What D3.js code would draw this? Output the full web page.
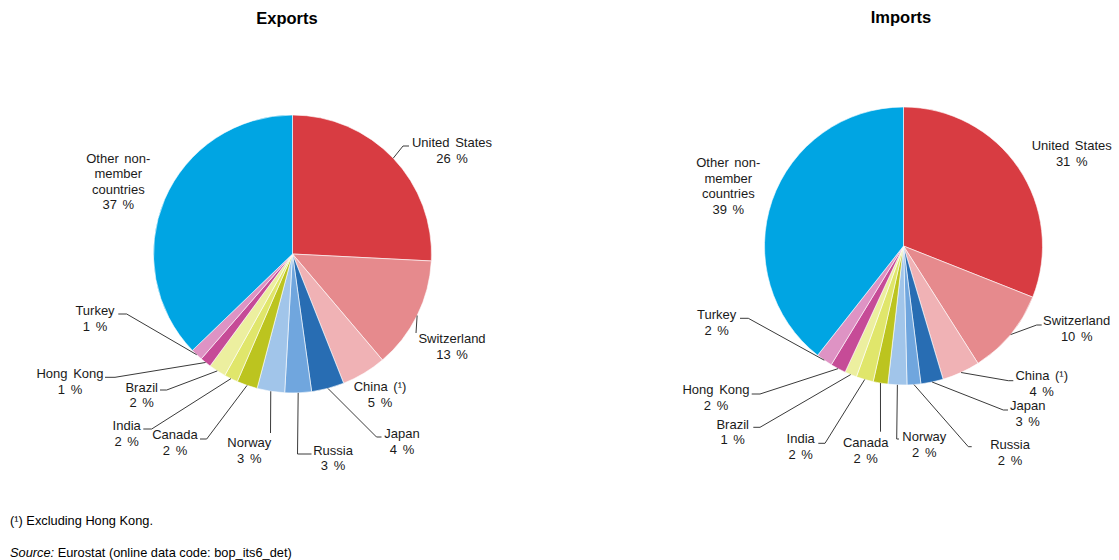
<!DOCTYPE html>
<html>
<head>
<meta charset="utf-8">
<script src="https://cdn.jsdelivr.net/npm/d3@7"></script>
<style>
  body { margin: 0; background: #fff; }
  svg { display: block; font-family: "Liberation Sans", Arial, sans-serif; }
</style>
</head>
<body>
<div class="chartdiv"></div>
<script>
// partners, in clockwise order from 12 o'clock
var partners = ["United States", "Switzerland", "China (\u00b9)", "Japan", "Russia", "Norway",
                "Canada", "India", "Brazil", "Hong Kong", "Turkey", "Other non-member countries"];
var exportsShare = [25.8, 13.0, 5.2, 3.8, 3.1, 3.2, 2.4, 1.6, 2.0, 1.3, 1.4, 37.2];
var importsShare = [31.0, 10.0, 4.4, 2.6, 1.6, 2.2, 1.7, 2.0, 1.4, 1.8, 1.9, 39.4];

var colors = ["#d83c42", "#e68a8d", "#f0b2b5", "#286db3", "#70a6de", "#a1c5ea",
              "#bcc41f", "#e0e66b", "#ecef9f", "#c64b97", "#de93c4", "#00a5e3"];

var footnote = "(\u00b9) Excluding Hong Kong.";
var source = "Eurostat (online data code: bop_its6_det)";

// label placement, relative to the pie centre: text [x, y], leader elbow, leader end
var exportsLayout = [
  {text: [159.5, -107], elbow: [110.5, -108], end: [116.5, -108]},
  {text: [159.5, 89],   elbow: [123.5, 79],   end: [123.5, 79]},
  {text: [87.5, 137]},
  {text: [109.5, 184],  elbow: [84, 183],     end: [89, 183]},
  {text: [40.5, 200.5], elbow: [5, 200],      end: [19, 200]},
  {text: [-43.2, 193],  elbow: [-22, 179],    end: [-22, 179]},
  {text: [-117.5, 185], elbow: [-85.8, 185],  end: [-92.5, 185]},
  {text: [-165.8, 176], elbow: [-140.8, 175], end: [-149.2, 175]},
  {text: [-150.8, 137.5], elbow: [-125.8, 136], end: [-132.5, 136]},
  {text: [-222.5, 124], elbow: [-177.5, 123.3], end: [-187.5, 123.3]},
  {text: [-197.5, 61],  elbow: [-165.8, 60],  end: [-174.2, 60]},
  {text: [-174.2, -91.5]}
];
var importsLayout = [
  {text: [168.2, -96]},
  {text: [173.2, 79],   elbow: [133.2, 79],   end: [138.2, 79]},
  {text: [138.2, 134],  elbow: [104.8, 134.7], end: [109.8, 134.7]},
  {text: [124.2, 164],  elbow: [99.8, 164],   end: [104.5, 164]},
  {text: [106.5, 203],  elbow: [64.8, 200.7], end: [68.2, 200.7]},
  {text: [20.8, 195],   elbow: [-6.8, 193],   end: [-4.5, 193]},
  {text: [-37.8, 201],  elbow: [-23, 185.7],  end: [-23, 185.7]},
  {text: [-102.8, 197], elbow: [-78.5, 197.3], end: [-85.2, 197.3]},
  {text: [-170.8, 182.5], elbow: [-143.5, 181.3], end: [-150.2, 181.3]},
  {text: [-187.5, 148], elbow: [-143.5, 148], end: [-151.8, 148]},
  {text: [-186.8, 73],  elbow: [-155.2, 72.3], end: [-163.5, 72.3]},
  {text: [-175.2, -79]}
];

var width = 1119, height = 560;
var radius = 139;
var lineH = 15.5;

var panels = [
  {title: "Exports", values: exportsShare, cx: 292.5, cy: 254, titleX: 287, titleY: 24, layout: exportsLayout},
  {title: "Imports", values: importsShare, cx: 903.5, cy: 246, titleX: 901, titleY: 23, layout: importsLayout}
];

var svg = d3.select(".chartdiv")
    .append("svg")
    .attr("width", width)
    .attr("height", height);

var color = d3.scaleOrdinal().domain(partners).range(colors);

var pie = d3.pie().sort(null).value(function(d) { return d.value; });
var arc = d3.arc().innerRadius(0).outerRadius(radius);

function labelLines(name, value) {
  var pct = Math.round(value) + " %";
  if (name === "Other non-member countries") return ["Other non-", "member", "countries", pct];
  return [name, pct];
}

panels.forEach(function(p) {
  var data = partners.map(function(name, i) { return {name: name, value: p.values[i], layout: p.layout[i]}; });
  var arcs = pie(data);

  svg.append("text")
      .attr("x", p.titleX)
      .attr("y", p.titleY)
      .attr("text-anchor", "middle")
      .style("font-weight", "bold")
      .style("font-size", "16.5px")
      .text(p.title);

  var g = svg.append("g")
      .attr("transform", "translate(" + p.cx + "," + p.cy + ")");

  g.selectAll("path.slice")
      .data(arcs)
    .enter().append("path")
      .classed("slice", true)
      .attr("d", arc)
      .attr("fill", function(d) { return color(d.data.name); })
      .attr("stroke", "#fff")
      .attr("stroke-width", 0.6);

  // leader lines
  g.selectAll("polyline.leader")
      .data(arcs.filter(function(d) { return d.data.layout.elbow; }))
    .enter().append("polyline")
      .classed("leader", true)
      .attr("fill", "none")
      .attr("stroke", "#3a3a3a")
      .attr("stroke-width", 1)
      .attr("points", function(d) {
        var a = (d.startAngle + d.endAngle) / 2;
        var s = [radius * Math.sin(a), -radius * Math.cos(a)];
        var L = d.data.layout;
        return [s, L.elbow, L.end].map(function(pt) { return pt.join(","); }).join(" ");
      });

  var labels = g.selectAll("text.label")
      .data(arcs)
    .enter().append("text")
      .classed("label", true)
      .attr("text-anchor", "middle")
      .style("font-size", "13px")
      .style("word-spacing", "2px")
      .attr("fill", "#1a1a1a")
      .attr("transform", function(d) { return "translate(" + d.data.layout.text.join(",") + ")"; });

  labels.selectAll("tspan")
      .data(function(d) { return labelLines(d.data.name, d.data.value); })
    .enter().append("tspan")
      .attr("x", 0)
      .attr("y", function(d, i) { return i * lineH; })
      .text(function(d) { return d; });
});

svg.append("text")
    .attr("x", 10)
    .attr("y", 525)
    .style("font-size", "12.8px")
    .text(footnote);

var src = svg.append("text")
    .attr("x", 10)
    .attr("y", 557)
    .style("font-size", "12.8px");
src.append("tspan").style("font-style", "italic").text("Source:");
src.append("tspan").text(" " + source);
</script>
</body>
</html>
